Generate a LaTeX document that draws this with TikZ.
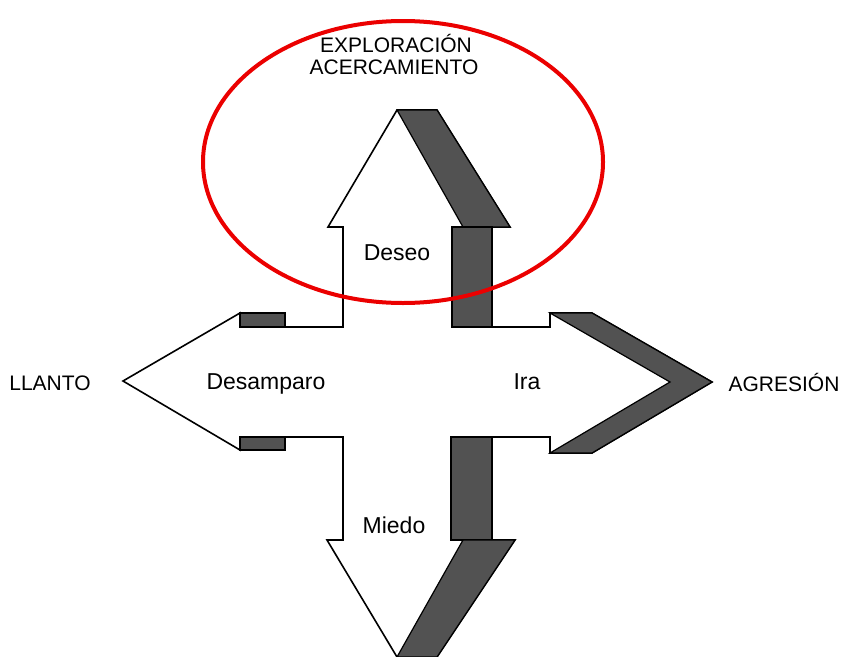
\documentclass[tikz,border=0pt]{standalone}
\usepackage{fontspec}
\setmainfont{Liberation Sans}
\definecolor{rojo}{RGB}{235,0,0}

\begin{document}
\begin{tikzpicture}[x=1pt, y=-1pt,
	contorno/.style={draw=black, line width=1.6pt, fill=white, line join=miter},
	sombra/.style={draw=black, line width=1.2pt, fill=black!68},
	emocion/.style={anchor=base, font=\fontsize{23}{27}\selectfont},
	conducta/.style={anchor=base, font=\fontsize{21}{25}\selectfont}]
\useasboundingbox (0,0) rectangle (842,656);
\begin{scope}
	\clip (0,0) rectangle (842,656);
	% la cruz de cuatro flechas
	\draw[contorno] (397,110) -- (437,110) -- (510,227) -- (492,227) -- (492,327)
		-- (550,327) -- (550,313) -- (592,313) -- (712,382) -- (592,453) -- (550,453)
		-- (550,437) -- (492,437) -- (492,540) -- (515,540) -- (437,657) -- (397,657)
		-- (327,540) -- (343,540) -- (343,437) -- (240,437) -- (240,450) -- (123,381)
		-- (240,313) -- (240,327) -- (343,327) -- (343,227) -- (328,227) -- cycle;
	% sombras
	\draw[sombra] (397,110) -- (437,110) -- (510,227) -- (463,227) -- cycle;
	\draw[sombra] (452,227) rectangle (492,327);
	\draw[sombra] (550,313) -- (592,313) -- (712,382) -- (592,453) -- (550,453) -- (670,382) -- cycle;
	\draw[sombra] (451,437) rectangle (492,540);
	\draw[sombra] (463,540) -- (515,540) -- (437,657) -- (397,657) -- cycle;
	\draw[sombra] (240,313) rectangle (285,327);
	\draw[sombra] (240,437) rectangle (285,450);
\end{scope}
% textos
\node[conducta] (exploracion) at (396,52) {EXPLORACIÓN};
\node[conducta] (acercamiento) at (394,74) {ACERCAMIENTO};
\node[emocion] (deseo) at (397,260) {Deseo};
\node[emocion] (desamparo) at (266,389) {Desamparo};
\node[emocion] (ira) at (527,389) {Ira};
\node[emocion] (miedo) at (394,533) {Miedo};
\node[conducta] (llanto) at (50,390) {LLANTO};
\node[conducta] (agresion) at (784,391) {AGRESIÓN};
% elipse roja
\draw[rojo, line width=4pt] (403,162) ellipse [x radius=200, y radius=141];
\end{tikzpicture}
\end{document}
